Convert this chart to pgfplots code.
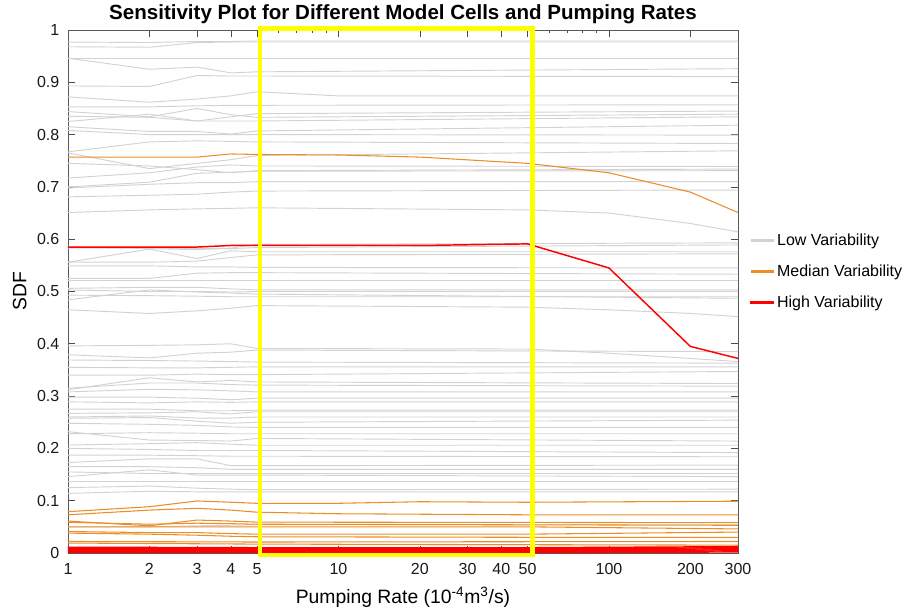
\documentclass[border=0pt]{standalone}
\usepackage{fontspec}
\setmainfont{Liberation Sans}
\usepackage{pgfplots}
\pgfplotsset{compat=1.18}
\usetikzlibrary{calc}

\definecolor{lowgray}{RGB}{210,210,210}
\definecolor{medorange}{RGB}{236,142,40}
\definecolor{hired}{RGB}{255,0,0}
\definecolor{boxyellow}{RGB}{255,255,0}

\tikzset{
  lo/.style={draw=lowgray, line width=0.7pt},
  me/.style={draw=medorange, line width=0.8pt},
  hi/.style={draw=hired, line width=1.1pt},
}

\begin{document}
\begin{tikzpicture}
\begin{axis}[
  scale only axis,
  width=502.5pt, height=392.25pt,
  xmode=log,
  xmin=1, xmax=300, ymin=0, ymax=1,
  xtick={1,2,3,4,5,10,20,30,40,50,100,200,300},
  xticklabels={1,2,3,4,5,10,20,30,40,50,100,200,300},
  minor xtick={6,7,8,9,60,70,80,90},
  ytick={0,0.1,0.2,0.3,0.4,0.5,0.6,0.7,0.8,0.9,1},
  yticklabels={0,0.1,0.2,0.3,0.4,0.5,0.6,0.7,0.8,0.9,1},
  tick align=inside,
  major tick length=5pt, minor tick length=2.5pt,
  tick style={black!70, line width=0.5pt},
  axis line style={black!65, line width=0.6pt},
  ticklabel style={font=\fontsize{12}{14}\selectfont, text=black!90},
  xticklabel style={yshift=-4pt},
  yticklabel style={xshift=-3pt},
  /pgf/number format/assume math mode=true,
  xlabel={Pumping Rate (10\textsuperscript{-4}m\textsuperscript{3}/s)},
  ylabel={SDF},
  label style={font=\fontsize{14.5}{17}\selectfont},
  xlabel style={yshift=-3pt},
  ylabel style={yshift=1pt},
  title={Sensitivity Plot for Different Model Cells and Pumping Rates},
  title style={font=\bfseries\fontsize{15.4}{18}\selectfont, at={(0.5,1)}, anchor=base, yshift=2pt},
  clip=false,
  legend style={at={(1.012,0.621)}, anchor=north west, draw=none,
    font=\fontsize{12}{14}\selectfont, row sep=9pt},
  legend cell align=left,
]
% low variability cells
\addplot[lo, legend image code/.code={\fill[lowgray] (0pt,-0.6pt) rectangle (17pt,0.6pt);}]
  coordinates {(1,.977)(2,.976)(3,.978)(4,.978)(5,.979)(300,.979)};
\addplot[lo,forget plot] coordinates {(1,.968)(2,.967)(3,.976)(4,.977)(5,.977)(300,.977)};
\addplot[lo,forget plot] coordinates {(1,.946)(2,.946)(3,.946)(4,.946)(5,.946)(300,.946)};
\addplot[lo,forget plot] coordinates {(1,.946)(2,.925)(3,.929)(4,.918)(5,.920)(300,.926)};
\addplot[lo,forget plot] coordinates {(1,.893)(2,.892)(3,.913)(4,.912)(5,.912)(300,.911)};
\addplot[lo,forget plot] coordinates {(1,.872)(2,.862)(3,.868)(4,.874)(5,.882)(10,.874)(300,.874)};
\addplot[lo,forget plot] coordinates {(1,.853)(2,.853)(3,.855)(4,.856)(5,.856)(300,.857)};
\addplot[lo,forget plot] coordinates {(1,.844)(2,.834)(3,.850)(4,.838)(5,.833)(300,.839)};
\addplot[lo,forget plot] coordinates {(1,.825)(2,.839)(3,.826)(4,.834)(5,.840)(300,.845)};
\addplot[lo,forget plot] coordinates {(1,.835)(2,.833)(3,.826)(4,.826)(5,.826)(300,.834)};
\addplot[lo,forget plot] coordinates {(1,.815)(2,.806)(3,.806)(4,.801)(5,.807)(300,.818)};
\addplot[lo,forget plot] coordinates {(1,.808)(2,.800)(3,.800)(4,.800)(5,.800)(300,.799)};
\addplot[lo,forget plot] coordinates {(1,.767)(2,.786)(3,.788)(4,.787)(5,.786)(300,.783)};
\addplot[lo,forget plot] coordinates {(1,.765)(2,.735)(3,.745)(4,.752)(5,.760)(300,.769)};
\addplot[lo,forget plot] coordinates {(1,.717)(2,.727)(3,.738)(4,.742)(5,.740)(300,.739)};
\addplot[lo,forget plot] coordinates {(1,.745)(2,.740)(3,.733)(4,.727)(5,.731)(300,.734)};
\addplot[lo,forget plot] coordinates {(1,.700)(2,.709)(3,.726)(4,.728)(5,.730)(300,.731)};
\addplot[lo,forget plot] coordinates {(1,.698)(2,.705)(3,.708)(4,.708)(5,.710)(300,.710)};
\addplot[lo,forget plot] coordinates {(1,.681)(2,.684)(3,.686)(4,.690)(5,.692)(300,.694)};
\addplot[lo,forget plot] coordinates {(1,.651)(2,.656)(3,.658)(4,.659)(5,.660)(50,.656)(100,.650)(200,.630)(300,.614)};
\addplot[lo,forget plot] coordinates {(1,.585)(2,.582)(3,.580)(4,.583)(5,.590)(300,.593)};
\addplot[lo,forget plot] coordinates {(1,.583)(2,.583)(3,.582)(4,.582)(5,.584)(300,.589)};
\addplot[lo,forget plot] coordinates {(1,.556)(2,.581)(3,.563)(4,.578)(5,.576)(300,.576)};
\addplot[lo,forget plot] coordinates {(1,.556)(2,.556)(3,.558)(4,.565)(5,.570)(300,.572)};
\addplot[lo,forget plot] coordinates {(1,.549)(2,.549)(3,.547)(4,.547)(5,.546)(300,.545)};
\addplot[lo,forget plot] coordinates {(1,.525)(2,.525)(3,.535)(4,.536)(5,.536)(300,.533)};
\addplot[lo,forget plot] coordinates {(1,.522)(2,.522)(3,.522)(4,.522)(5,.522)(300,.522)};
\addplot[lo,forget plot] coordinates {(1,.506)(2,.508)(3,.508)(4,.505)(5,.503)(300,.503)};
\addplot[lo,forget plot] coordinates {(1,.503)(2,.500)(3,.500)(4,.499)(5,.500)(300,.500)};
\addplot[lo,forget plot] coordinates {(1,.484)(2,.503)(3,.499)(4,.497)(5,.495)(300,.487)};
\addplot[lo,forget plot] coordinates {(1,.493)(2,.492)(3,.491)(4,.490)(5,.490)(300,.490)};
\addplot[lo,forget plot] coordinates {(1,.465)(2,.458)(3,.463)(4,.468)(5,.473)(50,.470)(100,.465)(200,.458)(300,.452)};
\addplot[lo,forget plot] coordinates {(1,.396)(2,.397)(3,.398)(4,.400)(5,.391)(50,.390)(100,.382)(200,.372)(300,.366)};
\addplot[lo,forget plot] coordinates {(1,.379)(2,.373)(3,.382)(4,.384)(5,.388)(300,.385)};
\addplot[lo,forget plot] coordinates {(1,.369)(2,.368)(3,.367)(4,.366)(5,.365)(300,.363)};
\addplot[lo,forget plot] coordinates {(1,.355)(2,.354)(3,.354)(4,.355)(5,.356)(300,.356)};
\addplot[lo,forget plot] coordinates {(1,.340)(2,.340)(3,.342)(4,.341)(5,.341)(300,.347)};
\addplot[lo,forget plot] coordinates {(1,.312)(2,.335)(3,.327)(4,.330)(5,.327)(300,.324)};
\addplot[lo,forget plot] coordinates {(1,.315)(2,.325)(3,.325)(4,.322)(5,.321)(300,.319)};
\addplot[lo,forget plot] coordinates {(1,.308)(2,.313)(3,.312)(4,.310)(5,.308)(300,.308)};
\addplot[lo,forget plot] coordinates {(1,.298)(2,.298)(3,.296)(4,.293)(5,.296)(300,.296)};
\addplot[lo,forget plot] coordinates {(1,.289)(2,.287)(3,.289)(4,.288)(5,.289)(300,.289)};
\addplot[lo,forget plot] coordinates {(1,.275)(2,.275)(3,.272)(4,.272)(5,.273)(300,.273)};
\addplot[lo,forget plot] coordinates {(1,.267)(2,.268)(3,.270)(4,.266)(5,.270)(300,.270)};
\addplot[lo,forget plot] coordinates {(1,.260)(2,.262)(3,.258)(4,.258)(5,.260)(300,.260)};
\addplot[lo,forget plot] coordinates {(1,.2575)(2,.259)(3,.252)(4,.248)(5,.250)(300,.254)};
\addplot[lo,forget plot] coordinates {(1,.248)(2,.246)(3,.244)(4,.241)(5,.240)(300,.240)};
\addplot[lo,forget plot] coordinates {(1,.232)(2,.216)(3,.215)(4,.214)(5,.219)(300,.214)};
\addplot[lo,forget plot] coordinates {(1,.228)(2,.230)(3,.229)(4,.228)(5,.228)(300,.228)};
\addplot[lo,forget plot] coordinates {(1,.2065)(2,.209)(3,.211)(4,.208)(5,.206)(300,.206)};
\addplot[lo,forget plot] coordinates {(1,.200)(2,.198)(3,.196)(4,.196)(5,.196)(300,.192)};
\addplot[lo,forget plot] coordinates {(1,.187)(2,.187)(3,.186)(4,.185)(5,.185)(300,.184)};
\addplot[lo,forget plot] coordinates {(1,.173)(2,.180)(3,.180)(4,.167)(5,.167)(300,.168)};
\addplot[lo,forget plot] coordinates {(1,.165)(2,.165)(3,.163)(4,.160)(5,.160)(300,.160)};
\addplot[lo,forget plot] coordinates {(1,.155)(2,.152)(3,.152)(4,.152)(5,.152)(300,.152)};
\addplot[lo,forget plot] coordinates {(1,.146)(2,.159)(3,.149)(4,.149)(5,.149)(300,.146)};
\addplot[lo,forget plot] coordinates {(1,.136)(2,.136)(3,.136)(4,.136)(5,.136)(300,.136)};
\addplot[lo,forget plot] coordinates {(1,.125)(2,.128)(3,.124)(4,.122)(5,.121)(300,.122)};
\addplot[lo,forget plot] coordinates {(1,.114)(2,.118)(3,.117)(4,.117)(5,.117)(300,.117)};
\addplot[lo,forget plot] coordinates {(1,.050)(2,.050)(3,.052)(4,.053)(5,.054)(300,.054)};

% median variability cells
\addplot[me, legend image code/.code={\fill[medorange] (0pt,-0.6pt) rectangle (17pt,0.6pt);}]
  coordinates {(1,.757)(2,.757)(3,.757)(4,.763)(5,.762)(10,.761)(20,.757)(50,.745)(100,.727)(200,.690)(300,.651)};
\addplot[me,forget plot] coordinates {(1,.079)(2,.0885)(3,.0995)(4,.097)(5,.095)(10,.095)(20,.098)(50,.097)(300,.099)};
\addplot[me,forget plot] coordinates {(1,.073)(2,.082)(3,.0855)(4,.082)(5,.078)(10,.075)(50,.073)(300,.073)};
\addplot[me,forget plot] coordinates {(1,.061)(2,.052)(3,.063)(4,.061)(5,.059)(300,.058)};
\addplot[me,forget plot] coordinates {(1,.0587)(2,.055)(3,.057)(4,.056)(5,.055)(300,.053)};
\addplot[me,forget plot] coordinates {(1,.050)(5,.050)(50,.050)(300,.046)};
\addplot[me,forget plot] coordinates {(1,.041)(2,.039)(3,.039)(4,.037)(5,.036)(50,.036)(300,.040)};
\addplot[me,forget plot] coordinates {(1,.038)(2,.036)(3,.034)(4,.032)(5,.031)(50,.030)(300,.030)};
\addplot[me,forget plot] coordinates {(1,.022)(5,.021)(300,.022)};
\addplot[me,forget plot] coordinates {(1,.019)(5,.017)(300,.015)};

% high variability cells
\addplot[hi, legend image code/.code={\fill[hired] (0pt,-0.7pt) rectangle (17pt,0.7pt);}]
  coordinates {(1,.585)(2,.585)(3,.585)(4,.588)(5,.588)(10,.588)(20,.588)(50,.591)(100,.545)(200,.395)(300,.372)};
\addplot[hi,forget plot] coordinates {(1,.011)(5,.010)(50,.010)(300,.012)};
\addplot[hi,forget plot] coordinates {(1,.009)(5,.008)(50,.008)(300,.010)};
\addplot[hi,forget plot] coordinates {(1,.007)(5,.006)(50,.006)(300,.008)};
\addplot[hi,forget plot] coordinates {(1,.005)(5,.004)(50,.004)(300,.006)};
\addplot[hi,forget plot] coordinates {(1,.003)(5,.002)(50,.002)(300,.004)};
\addplot[hi,forget plot] coordinates {(1,.001)(5,.001)(50,.001)(300,.002)};

% highlighted range
\addplot[boxyellow, line width=3.5pt, line cap=rect, line join=miter, forget plot]
  coordinates {(5.13,-0.004)(52.2,-0.004)(52.2,1.003)(5.13,1.003)(5.13,-0.004)};

\legend{Low Variability, Median Variability, High Variability}
\end{axis}
\pgfresetboundingbox
\path[use as bounding box] ($(current axis.south west)+(-51pt,-42.75pt)$) rectangle ($(current axis.north east)+(132pt,22.5pt)$);
\end{tikzpicture}
\end{document}
